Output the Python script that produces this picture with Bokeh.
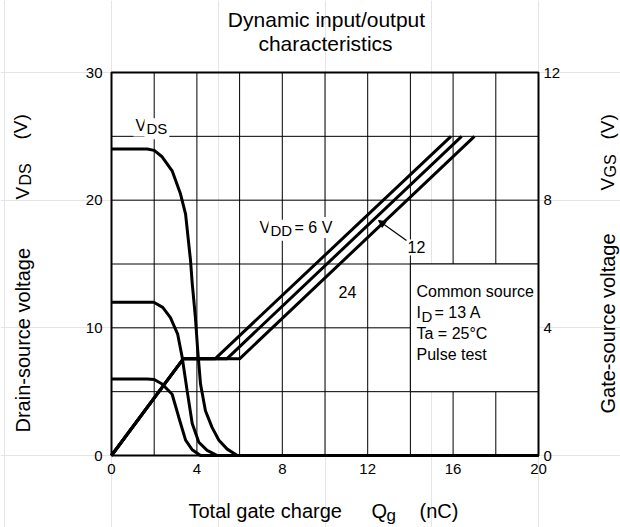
import math
from bokeh.plotting import figure
from bokeh.models import Range1d, LinearAxis, FixedTicker, Label, Arrow, NormalHead
from bokeh.embed import file_html
from bokeh.resources import INLINE

# ---------------- data ----------------
x_ticks = [0, 4, 8, 12, 16, 20]
vds_ticks = [0, 10, 20, 30]
vgs_ticks = [0, 4, 8, 12]
x_grid = [2, 4, 6, 8, 10, 12, 14, 16, 18]
y_grid = [5, 10, 15, 20, 25]

# Drain-source voltage curves (Qg nC, VDS V)
qg_vds_6 = [0, 1.67, 2.0, 2.37, 2.84, 3.15, 3.47, 3.78, 4.17, 20]
vds_6 = [6.0, 6.0, 5.95, 5.6, 4.8, 3.0, 1.2, 0.45, 0, 0]

qg_vds_12 = [0, 1.98, 2.4, 2.76, 3.1, 3.31, 3.54, 3.78, 4.09, 4.48, 4.95, 20]
vds_12 = [12.0, 12.0, 11.6, 10.8, 9.5, 7.7, 5.1, 2.5, 1.04, 0.4, 0, 0]

qg_vds_24 = [0, 1.67, 2.0, 2.37, 2.84, 3.23, 3.47, 3.70, 3.78, 3.93, 4.04, 4.17, 4.40, 4.71, 5.03, 5.42, 5.89, 20]
vds_24 = [24.0, 24.0, 23.9, 23.4, 22.3, 20.5, 18.9, 15.3, 13.5, 10.8, 8.2, 5.6, 3.5, 2.2, 1.2, 0.5, 0, 0]

# Gate-source voltage curves (Qg nC, VGS V)
qg_vgs_6 = [0, 3.36, 4.85, 15.9]
qg_vgs_12 = [0, 3.36, 5.4, 16.4]
qg_vgs_24 = [0, 3.36, 6.0, 17.0]
vgs = [0, 3.03, 3.03, 10.0]

X_MIN, X_MAX = 0, 20
VDS_MAX = 30
VGS_MAX = 12

FONT = "Liberation Sans"

# chart box position on the page (px); the Bokeh frame fills the whole canvas
FL, FR, FT, FB = 111, 538, 72, 455
def dx(px):
    return (px - FL) / (FR - FL) * X_MAX
def dy(py):
    return (FB - py) / (FB - FT) * VDS_MAX

W, H = 620, 527
p = figure(width=W, height=H,
           x_range=Range1d(dx(0), dx(W)), y_range=Range1d(dy(H), dy(0)),
           output_backend="svg", toolbar_location=None,
           x_axis_location=None, y_axis_location=None,
           min_border=0)
k = VGS_MAX / VDS_MAX
p.extra_y_ranges = {"vgs": Range1d(dy(H) * k, dy(0) * k)}
p.background_fill_color = "white"
p.border_fill_color = "white"
p.outline_line_color = None

xax = LinearAxis(fixed_location=0, ticker=FixedTicker(ticks=x_ticks), major_label_standoff=8)
lax = LinearAxis(fixed_location=0, ticker=FixedTicker(ticks=vds_ticks), major_label_standoff=9)
rax = LinearAxis(fixed_location=X_MAX, y_range_name="vgs", ticker=FixedTicker(ticks=vgs_ticks),
                 major_label_standoff=5)
p.add_layout(xax, "below")
p.add_layout(lax, "left")
p.add_layout(rax, "right")
for ax in (xax, lax, rax):
    ax.axis_line_color = None
    ax.major_tick_line_color = None
    ax.minor_tick_line_color = None
    ax.major_tick_in = 0
    ax.major_tick_out = 0
    ax.major_label_text_font = FONT
    ax.major_label_text_font_size = "15px"
    ax.major_label_text_color = "black"

# grid
p.segment(x0=x_grid, y0=[0] * len(x_grid), x1=x_grid, y1=[VDS_MAX] * len(x_grid),
          line_color="black", line_width=1)
p.segment(x0=[X_MIN] * len(y_grid), y0=y_grid, x1=[X_MAX] * len(y_grid), y1=y_grid,
          line_color="black", line_width=1)

# condition box (covers grid)
p.quad(left=[14], right=[X_MAX], bottom=[5], top=[15], fill_color="white",
       line_color="black", line_width=1)

# chart border
p.quad(left=[X_MIN], right=[X_MAX], bottom=[0], top=[VDS_MAX], fill_color=None,
       line_color="black", line_width=2)

# curves
LW = 3
p.line(qg_vds_6, vds_6, line_color="black", line_width=LW)
p.line(qg_vds_12, vds_12, line_color="black", line_width=LW)
p.line(qg_vds_24, vds_24, line_color="black", line_width=LW)
p.line(qg_vgs_6, vgs, y_range_name="vgs", line_color="black", line_width=LW)
p.line(qg_vgs_12, vgs, y_range_name="vgs", line_color="black", line_width=LW)
p.line(qg_vgs_24, vgs, y_range_name="vgs", line_color="black", line_width=LW)


def lab(px, py, text, size=16, align="left", baseline="alphabetic", angle=0.0,
        bg=None, pad=0):
    if baseline == "alphabetic":
        py = py - 0.38 * size   # compensate Bokeh's text box placement
    kw = dict(x=dx(px), y=dy(py), text=text, text_font=FONT, text_font_size=f"{size}px",
              text_color="black", text_align=align, text_baseline=baseline,
              angle=angle)
    if bg is not None:
        kw.update(background_fill_color=bg, padding=pad)
    p.add_layout(Label(**kw))

# title
lab(326, 27, "Dynamic input/output", size=21, align="center")
lab(325, 51, "characteristics", size=21, align="center")

# bottom axis title
lab(188, 518, "Total gate charge", size=20)
lab(371, 518, "Q", size=20)
lab(386, 521, "g", size=17)
lab(419, 518, "(nC)", size=20)

# left axis title (rotated)
A = math.pi / 2
lab(22, 432, "Drain-source voltage", size=20, baseline="middle", angle=A)
lab(22, 199, "V", size=19, baseline="middle", angle=A)
lab(25, 185, "DS", size=16, baseline="middle", angle=A)
lab(20, 139, "(V)", size=19, baseline="middle", angle=A)

# right axis title (rotated)
lab(607, 413, "Gate-source voltage", size=20, baseline="middle", angle=A)
lab(607, 190, "V", size=19, baseline="middle", angle=A)
lab(610, 177, "GS", size=16, baseline="middle", angle=A)
lab(607, 139, "(V)", size=19, baseline="middle", angle=A)

# in-plot labels
lab(133, 131.5, "V", bg="white", pad=2)
lab(144, 134, "DS", size=15, bg="white", pad=2)

lab(257, 233, "V", bg="white", pad=2)
lab(268, 235.5, "DD", size=15, bg="white", pad=2)
lab(292, 233, "= 6 V", bg="white", pad=2)

lab(405, 253, "12", bg="white", pad=2)
lab(338, 297.5, "24")

lab(416, 297, "Common source")
lab(416, 318, "I")
lab(421, 321.5, "D", size=15)
lab(434, 318, "= 13 A")
lab(416, 339, "Ta = 25\u00b0C")
lab(416, 360, "Pulse test")

# leader arrow for "12"
p.add_layout(Arrow(end=NormalHead(size=7, fill_color="black", line_color="black", line_width=1),
                   x_start=dx(406), y_start=dy(240), x_end=dx(378), y_end=dy(220),
                   line_color="black", line_width=1.2))

open("out.html", "w").write(file_html(p, INLINE))
